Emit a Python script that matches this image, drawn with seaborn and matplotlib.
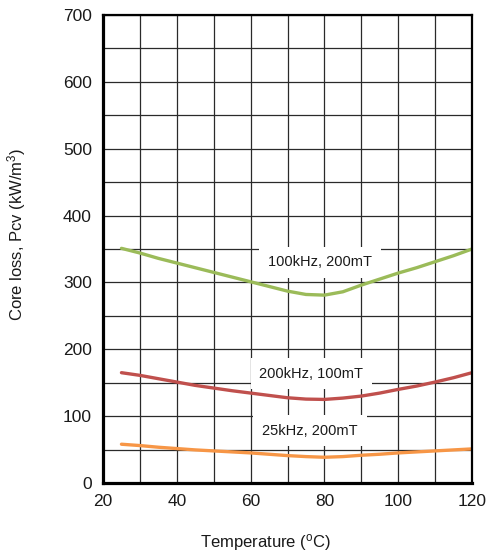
import matplotlib
matplotlib.use("Agg")
import matplotlib.pyplot as plt
from matplotlib.ticker import MultipleLocator
import numpy as np
import pandas as pd
import seaborn as sns

# Temperature points (°C)
temperature = [25, 30, 35, 40, 45, 50, 55, 60, 65, 70, 75, 80, 85, 90, 95, 100, 105, 110, 115, 120]

# Core loss Pcv (kW/m^3) for each excitation condition
loss_100k_200mT = [351, 344, 336, 329, 322, 315, 308, 301, 294, 287, 282, 281, 286, 296, 305, 314, 322, 331, 340, 350]
loss_200k_100mT = [165, 161, 156, 151, 146, 142, 138, 134.5, 131, 127.5, 125.5, 125, 127, 130, 134.5, 140, 145, 151, 157.5, 165]
loss_25k_200mT = [58, 56, 53.5, 51.5, 49.5, 48, 46.5, 45, 43, 41, 39.5, 38.5, 39.5, 41.5, 43, 45, 46.5, 48, 49.5, 51]

series_names = ["100kHz, 200mT", "200kHz, 100mT", "25kHz, 200mT"]
series_colors = ["#9BBB59", "#C0504D", "#F79646"]

# Curve labels: (temperature, loss) anchor of each label
label_x = [78.8, 76.5, 76.1]
label_y = [330, 163.5, 78.5]

x_ticks = [20, 40, 60, 80, 100, 120]
y_ticks = [0, 100, 200, 300, 400, 500, 600, 700]

df = pd.DataFrame({
    "Temperature": temperature * 3,
    "Pcv": loss_100k_200mT + loss_200k_100mT + loss_25k_200mT,
    "Condition": sum([[n] * len(temperature) for n in series_names], []),
})

sns.set_style("white")
plt.rcParams["font.family"] = ["Liberation Sans", "DejaVu Sans"]
plt.rcParams["mathtext.fontset"] = "custom"
plt.rcParams["mathtext.rm"] = "Liberation Sans"
plt.rcParams["mathtext.it"] = "Liberation Sans:italic"

fig = plt.figure(figsize=(5.04, 5.53), dpi=100)
ax = fig.add_axes([103 / 504, 70 / 553, 369 / 504, 468 / 553])

sns.lineplot(data=df, x="Temperature", y="Pcv", hue="Condition",
             palette=dict(zip(series_names, series_colors)),
             linewidth=2.4, legend=False, ax=ax, zorder=4)

for name, tx, ty in zip(series_names, label_x, label_y):
    ax.text(tx, ty, name, ha="center", va="center", fontsize=10.5, color="#1a1a1a",
            zorder=3,
            bbox=dict(boxstyle="square,pad=0.6", facecolor="white", edgecolor="none"))

ax.set_xlim(20, 120)
ax.set_ylim(0, 700)
ax.set_xticks(x_ticks)
ax.set_yticks(y_ticks)
ax.xaxis.set_minor_locator(MultipleLocator(10))
ax.yaxis.set_minor_locator(MultipleLocator(50))
ax.grid(True, which="both", color="#2a2a2a", linewidth=0.9)
ax.set_axisbelow(True)
ax.tick_params(axis="both", which="both", length=0, labelsize=12.5, colors="#1a1a1a")
ax.tick_params(axis="x", pad=8)
ax.tick_params(axis="y", pad=8)

for side in ["left", "bottom"]:
    ax.spines[side].set_linewidth(2.3)
for side in ["top", "right"]:
    ax.spines[side].set_linewidth(1.6)
for s in ax.spines.values():
    s.set_color("black")
    s.set_visible(True)
    s.set_zorder(5)

ax.set_xlabel(r"Temperature ($^{\mathrm{o}}$C)", fontsize=12, color="#1a1a1a")
ax.set_ylabel("Core loss, Pcv (kW/m$^{\\mathrm{3}}$)", fontsize=12, color="#1a1a1a")
ax.xaxis.set_label_coords(0.44, -0.104)
ax.yaxis.set_label_coords(-0.204, 0.532)

fig.savefig("out.png", dpi=100, facecolor="white")
